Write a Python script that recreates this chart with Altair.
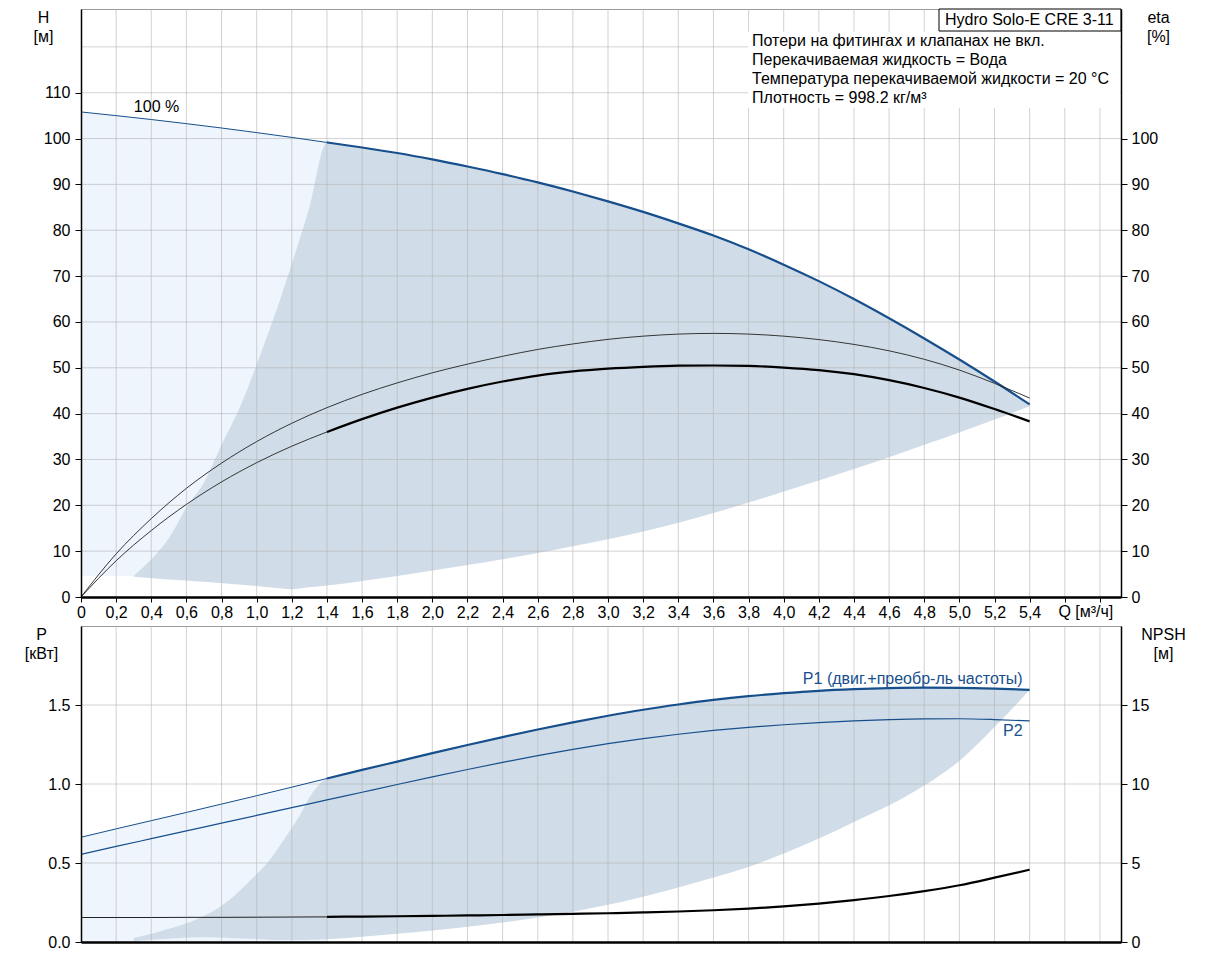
"""Pump performance chart: Hydro Solo-E CRE 3-11."""

import altair as alt
import pandas as pd

# flow points of the pump curves, m³/h
q_curve = [0.0, 0.2, 0.4, 0.6, 0.8, 1.0, 1.2, 1.4, 1.6, 1.8, 2.0, 2.2, 2.4, 2.6,
           2.8, 3.0, 3.2, 3.4, 3.6, 3.8, 4.0, 4.2, 4.4, 4.6, 4.8, 5.0, 5.2, 5.4]
# head at 100 % speed, m
h_100 = [105.8, 105.0, 104.15, 103.25, 102.3, 101.3, 100.25, 99.15, 98.05, 96.85, 95.45, 93.9, 92.25, 90.45,
         88.45, 86.3, 84.0, 81.5, 78.85, 75.85, 72.5, 68.9, 65.0, 60.8, 56.4, 51.8, 47.0, 42.0]
# efficiencies, %
eta_pump = [0, 9.4, 17.1, 23.7, 29.2, 33.9, 37.9, 41.3, 44.2, 46.7, 48.9, 50.8, 52.5, 54.0,
            55.2, 56.2, 56.9, 57.35, 57.5, 57.35, 56.9, 56.15, 55.1, 53.7, 51.85, 49.5, 46.6, 43.4]
eta_total = [0, 7.9, 14.5, 20.2, 25.1, 29.3, 32.9, 36.0, 38.8, 41.3, 43.5, 45.4, 47.0, 48.3,
             49.2, 49.8, 50.2, 50.45, 50.5, 50.4, 50.05, 49.5, 48.6, 47.3, 45.6, 43.5, 41.0, 38.3]
# power, kW
p1 = [0.663, 0.716, 0.768, 0.82, 0.873, 0.926, 0.98, 1.035, 1.089, 1.142, 1.195, 1.247, 1.297, 1.345,
      1.39, 1.432, 1.47, 1.503, 1.532, 1.556, 1.575, 1.59, 1.6, 1.607, 1.61, 1.609, 1.604, 1.596]
p2 = [0.555, 0.605, 0.654, 0.703, 0.752, 0.801, 0.85, 0.899, 0.948, 0.997, 1.045, 1.092, 1.137, 1.18,
      1.219, 1.255, 1.287, 1.315, 1.339, 1.359, 1.375, 1.388, 1.399, 1.407, 1.412, 1.413, 1.408, 1.399]
# NPSH, m
npsh = [1.55, 1.55, 1.55, 1.56, 1.56, 1.57, 1.58, 1.59, 1.61, 1.63, 1.65, 1.68, 1.71, 1.75,
        1.78, 1.82, 1.87, 1.93, 2.01, 2.11, 2.25, 2.43, 2.65, 2.91, 3.22, 3.59, 4.07, 4.58]

# speed-control range, head: left edge below 1.4 m³/h, lower edge everywhere
range_q = [0.30, 0.41, 0.50, 0.60, 0.70, 0.81, 0.90, 1.00, 1.13, 1.19, 1.30]
range_h_top = [4.6, 8.6, 12.8, 19.5, 25.0, 34.0, 41.0, 50.7, 64.5, 71.5, 85.0]
range_h_floor = [4.4, 4.1, 3.8, 3.6, 3.3, 3.0, 2.7, 2.4, 1.9, 1.7, 2.1]
h_floor = [2.5, 3.5, 4.6, 5.8, 7.0, 8.25, 9.6, 11.05, 12.6, 14.3, 16.2, 18.3, 20.6, 23.0,
           25.4, 27.9, 30.5, 33.2, 35.9, 38.7, 41.6]
light_h_floor = 4.6

# speed-control range, power
range_p_q = [0.30, 0.49, 0.68, 0.77, 0.87, 0.96, 1.06, 1.15, 1.25, 1.30]
range_p_top = [0.025, 0.08, 0.154, 0.207, 0.29, 0.386, 0.50, 0.64, 0.81, 0.914]
range_p_floor = [0.005, 0.02, 0.03, 0.028, 0.024, 0.02, 0.016, 0.012, 0.012, 0.014]
p_floor = [0.018, 0.034, 0.052, 0.073, 0.097, 0.124, 0.155, 0.192, 0.236, 0.287, 0.345, 0.408,
           0.475, 0.56, 0.655, 0.76, 0.865, 0.99, 1.146, 1.36, 1.595]

# ticks and grid
q_ticks = [0.0, 0.2, 0.4, 0.6, 0.8, 1.0, 1.2, 1.4, 1.6, 1.8, 2.0, 2.2, 2.4, 2.6, 2.8,
           3.0, 3.2, 3.4, 3.6, 3.8, 4.0, 4.2, 4.4, 4.6, 4.8, 5.0, 5.2, 5.4, 5.6, 5.8]
h_ticks = [0, 10, 20, 30, 40, 50, 60, 70, 80, 90, 100, 110]
h_grid = [10, 20, 30, 40, 50, 60, 70, 80, 90, 100, 110, 120]
eta_ticks = [0, 10, 20, 30, 40, 50, 60, 70, 80, 90, 100]
p_ticks = [0.0, 0.5, 1.0, 1.5]
npsh_ticks = [0, 5, 10, 15]

notes = [
    "Потери на фитингах и клапанах не вкл.",
    "Перекачиваемая жидкость = Вода",
    "Температура перекачиваемой жидкости = 20 °C",
    "Плотность = 998.2 кг/м³",
]

FONT = "Liberation Sans"
SIZE = 16
BLUE = "#174f8c"
LIGHT = "#eef5fc"
DARK = "#d0dce7"
GRID = "#b4b4b4"
WIDTH = 1040

axis_style = {
    "grid": False,
    "zindex": 1,
    "labelFont": FONT,
    "labelFontSize": SIZE,
    "labelColor": "black",
    "titleFont": FONT,
    "titleFontSize": SIZE,
    "titleFontWeight": "normal",
    "titleColor": "black",
    "titleAngle": 0,
    "titleAlign": "center",
    "titleBaseline": "top",
    "titleLineHeight": 19,
    "titleY": 0,
    "domainColor": "black",
    "tickColor": "black",
    "tickSize": 6,
    "labelOverlap": False,
}

q_scale = alt.Scale(domain=[0, 5.92], nice=False, zero=False)
h_scale = alt.Scale(domain=[0, 128.26], nice=False)
p_scale = alt.Scale(domain=[0, 2], nice=False)
npsh_scale = alt.Scale(domain=[0, 20], nice=False)

q_axis_top = alt.Axis(
    values=q_ticks,
    title=None,
    labelExpr="datum.value > 5.5 ? '' : datum.value == 0 ? '0' : replace(format(datum.value, '.1f'), '.', ',')",
    labelFlush=False,
    labelPadding=2,
    tickSize=5,
    domainWidth=2.5,
    grid=False,
    zindex=1,
    labelFont=FONT,
    labelFontSize=SIZE,
    labelColor="black",
    domainColor="black",
    tickColor="black",
    labelOverlap=False,
)
q_axis_bottom = alt.Axis(title=None, labels=False, ticks=False, grid=False, zindex=1,
                         domainWidth=2.5, domainColor="black")
h_axis = alt.Axis(values=h_ticks, title=["H", "[м]"], titleX=-38, labelPadding=5, domainWidth=1.5, **axis_style)
eta_axis = alt.Axis(values=eta_ticks, title=["eta", "[%]"], titleX=37, orient="right", labelPadding=4,
                    domainWidth=1.5, **axis_style)
p_axis = alt.Axis(values=p_ticks, format=".1f", title=["P", "[кВт]"], titleX=-40, labelPadding=5,
                  domainWidth=1.5, **axis_style)
npsh_axis = alt.Axis(values=npsh_ticks, title=["NPSH", "[м]"], titleX=42, orient="right", labelPadding=4,
                     domainWidth=1.5, **axis_style)


def qx(axis):
    """Shared flow encoding."""
    return alt.X("q", type="quantitative", scale=q_scale, axis=axis)


def yy(field, scale, axis):
    """Vertical encoding on a given scale."""
    return alt.Y(field, type="quantitative", scale=scale, axis=axis)


curves = pd.DataFrame({
    "q": q_curve, "h": h_100, "eta_pump": eta_pump, "eta_total": eta_total,
    "p1": p1, "p2": p2, "npsh": npsh,
})
part = curves[curves.q <= 1.4].assign(floor_h=light_h_floor, floor_p=0.0)
full = curves[curves.q >= 1.4]

band_h = pd.DataFrame({
    "q": range_q + list(full.q),
    "top": range_h_top + list(full.h),
    "bottom": range_h_floor + h_floor,
})
band_p = pd.DataFrame({
    "q": range_p_q + list(full.q),
    "top": range_p_top + list(full.p1),
    "bottom": range_p_floor + p_floor,
})


def line(data, field, scale, axis, xaxis, color, width):
    return (
        alt.Chart(data)
        .mark_line(color=color, strokeWidth=width, interpolate="monotone")
        .encode(x=qx(xaxis), y=yy(field, scale, axis))
    )


def grid_layers(values, field, scale, axis, xaxis):
    vgrid = (
        alt.Chart(pd.DataFrame({"q": q_ticks[1:]}))
        .mark_rule(color=GRID, opacity=0.6, strokeWidth=1)
        .encode(x=qx(xaxis))
    )
    hgrid = (
        alt.Chart(pd.DataFrame({field: values}))
        .mark_rule(color=GRID, opacity=0.6, strokeWidth=1)
        .encode(y=yy(field, scale, axis))
    )
    return [vgrid, hgrid]


def plot_head():
    """Upper panel: head and efficiency."""
    light = (
        alt.Chart(part)
        .mark_area(color=LIGHT, interpolate="monotone")
        .encode(x=qx(q_axis_top), y=yy("h", h_scale, h_axis), y2="floor_h")
    )
    band = (
        alt.Chart(band_h)
        .mark_area(color=DARK, interpolate="monotone")
        .encode(x=qx(q_axis_top), y=yy("top", h_scale, h_axis), y2="bottom")
    )
    speed_label = (
        alt.Chart(pd.DataFrame({"q": [0.43], "h": [106.9], "label": ["100 %"]}))
        .mark_text(font=FONT, fontSize=SIZE, color="black")
        .encode(x=qx(q_axis_top), y=yy("h", h_scale, h_axis), text="label")
    )
    one = pd.DataFrame({"name": ["Hydro Solo-E CRE 3-11"], "notes": ["\n".join(notes)], "q": [5.72]})
    name_box = (
        alt.Chart(one)
        .mark_rect(fill="white", stroke="black", strokeWidth=1)
        .encode(x=alt.value(858), x2=alt.value(WIDTH), y=alt.value(0), y2=alt.value(22))
    )
    name_text = (
        alt.Chart(one)
        .mark_text(font=FONT, fontSize=SIZE, align="left", baseline="middle", color="black")
        .encode(x=alt.value(864), y=alt.value(11), text="name")
    )
    notes_bg = (
        alt.Chart(one)
        .mark_rect(fill="white")
        .encode(x=alt.value(667), x2=alt.value(WIDTH - 1), y=alt.value(23), y2=alt.value(99))
    )
    notes_text = (
        alt.Chart(one)
        .mark_text(font=FONT, fontSize=SIZE, align="left", baseline="top", lineBreak="\n", lineHeight=19,
                   color="black")
        .encode(x=alt.value(671), y=alt.value(24), text="notes")
    )
    q_title = (
        alt.Chart(one)
        .mark_text(font=FONT, fontSize=SIZE, align="center", baseline="middle", color="black")
        .encode(x=qx(q_axis_top), y=alt.value(603), text=alt.value("Q [м³/ч]"))
    )
    left = alt.layer(
        light,
        band,
        *grid_layers(h_grid, "h", h_scale, h_axis, q_axis_top),
        line(part, "h", h_scale, h_axis, q_axis_top, BLUE, 1),
        line(full, "h", h_scale, h_axis, q_axis_top, BLUE, 2.2),
        speed_label,
        name_box,
        name_text,
        notes_bg,
        notes_text,
        q_title,
    )
    right = alt.layer(
        line(curves, "eta_pump", h_scale, eta_axis, q_axis_top, "#222222", 0.9),
        line(part, "eta_total", h_scale, eta_axis, q_axis_top, "#222222", 0.9),
        line(full, "eta_total", h_scale, eta_axis, q_axis_top, "black", 2.2),
    )
    return alt.layer(left, right).resolve_scale(y="independent").properties(width=WIDTH, height=588)


def plot_power():
    """Lower panel: power and NPSH."""
    light = (
        alt.Chart(part)
        .mark_area(color=LIGHT, interpolate="monotone")
        .encode(x=qx(q_axis_bottom), y=yy("p1", p_scale, p_axis), y2="floor_p")
    )
    band = (
        alt.Chart(band_p)
        .mark_area(color=DARK, interpolate="monotone")
        .encode(x=qx(q_axis_bottom), y=yy("top", p_scale, p_axis), y2="bottom")
    )
    labels = (
        alt.Chart(pd.DataFrame({
            "q": [5.36, 5.36],
            "p": [1.665, 1.335],
            "label": ["P1 (двиг.+преобр-ль частоты)", "P2"],
        }))
        .mark_text(font=FONT, fontSize=SIZE, align="right", baseline="middle", color=BLUE)
        .encode(x=qx(q_axis_bottom), y=yy("p", p_scale, p_axis), text="label")
    )
    left = alt.layer(
        light,
        band,
        *grid_layers([0.5, 1.0, 1.5], "p", p_scale, p_axis, q_axis_bottom),
        line(part, "p1", p_scale, p_axis, q_axis_bottom, BLUE, 1),
        line(full, "p1", p_scale, p_axis, q_axis_bottom, BLUE, 2.2),
        line(curves, "p2", p_scale, p_axis, q_axis_bottom, BLUE, 1.2),
        labels,
    )
    right = alt.layer(
        line(part, "npsh", npsh_scale, npsh_axis, q_axis_bottom, "#222222", 1),
        line(full, "npsh", npsh_scale, npsh_axis, q_axis_bottom, "black", 2.2),
    )
    return alt.layer(left, right).resolve_scale(y="independent").properties(width=WIDTH, height=316)


chart = (
    alt.vconcat(plot_head(), plot_power(), spacing=29, bounds="flush")
    .properties(padding={"left": 15, "top": 0, "right": 5, "bottom": 2})
    .configure_view(stroke="#9a9a9a", strokeWidth=1)
)
chart.save("out.html", embed_options={"renderer": "svg", "actions": False})
